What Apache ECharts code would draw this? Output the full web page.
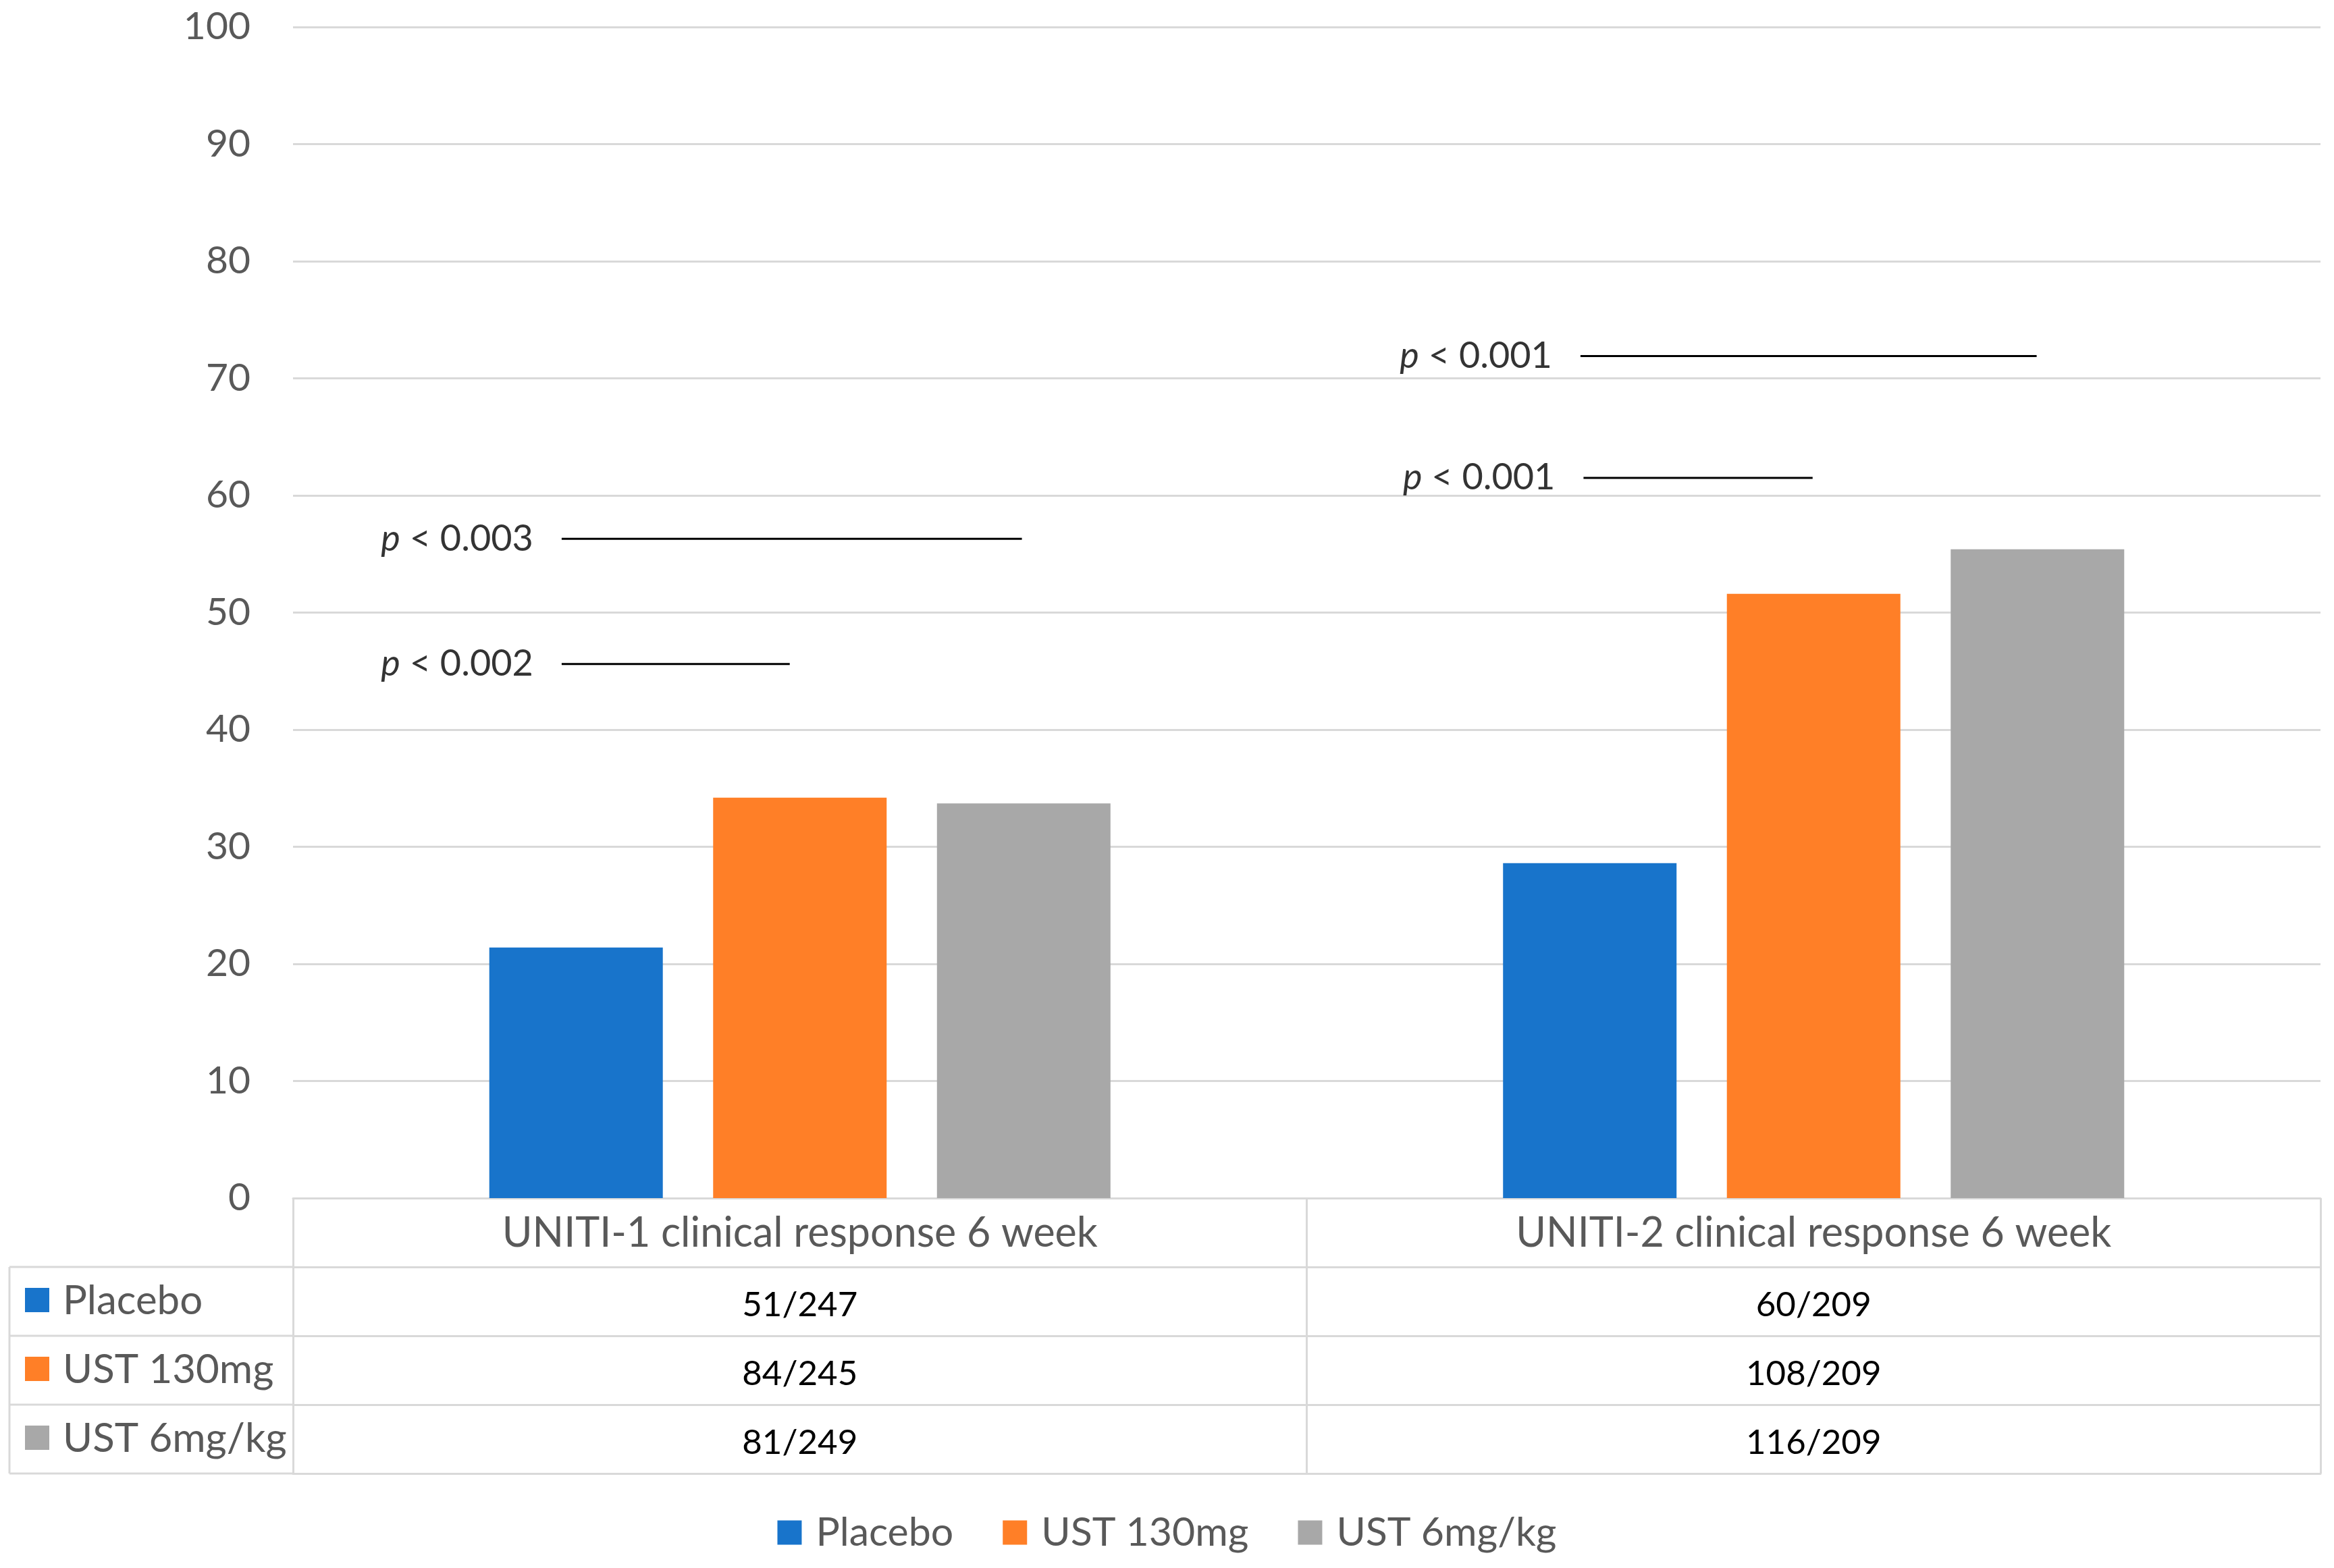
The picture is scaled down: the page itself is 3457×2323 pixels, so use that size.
<!DOCTYPE html>
<html>
<head>
  <meta charset="UTF-8">
  <title>UNITI clinical response 6 week</title>
  <script src="https://cdn.jsdelivr.net/npm/echarts@6/dist/echarts.min.js"></script>
  <style>
    html, body { margin: 0; padding: 0; background: #fff; }
    #chart { width: 3457px; height: 2323px; }
  </style>
</head>
<body>
  <div id="chart"></div>
  <script>
    // data
    const categories = ['UNITI-1 clinical response 6 week', 'UNITI-2 clinical response 6 week'];
    const seriesNames = ['Placebo', 'UST 130mg', 'UST 6mg/kg'];
    const colors = ['#1874CB', '#FF7F27', '#A8A8A8'];
    const placebo = [21.4, 28.6];
    const ust130 = [34.2, 51.6];
    const ust6 = [33.7, 55.4];
    const placeboCounts = ['51/247', '60/209'];
    const ust130Counts = ['84/245', '108/209'];
    const ust6Counts = ['81/249', '116/209'];
    const yTicks = { min: 0, max: 100, interval: 10 };

    // significance brackets: [xStart, xEnd, y] on a 0..2 scale across the two groups
    const pValues = ['0.003', '0.002', '0.001', '0.001'];
    const pLines = [
      [0.265, 0.719, 56.3],
      [0.265, 0.490, 45.6],
      [1.270, 1.720, 71.9],
      [1.273, 1.499, 61.5]
    ];

    // layout
    const W = 3457, H = 2323;
    const gridLeft = 434, gridRight = 20, gridTop = 40, gridBottom = 548;
    const rowH = 102;
    const tableLeft = 14;
    const axisY = H - gridBottom;
    const gray = '#595959';
    const lineGray = '#D9D9D9';
    const font = 'Lato';

    const chart = echarts.init(document.getElementById('chart'));

    const rowCounts = [placeboCounts, ust130Counts, ust6Counts];
    const rowAxes = rowCounts.map((cells, i) => ({
      type: 'category',
      gridIndex: 0,
      position: 'bottom',
      offset: rowH * (i + 1),
      data: cells,
      axisLine: { show: true, onZero: false, lineStyle: { color: lineGray, width: 3 } },
      axisTick: { show: false },
      axisLabel: {
        interval: 0, margin: 31, fontFamily: font, fontSize: 51, lineHeight: 51, color: '#000'
      },
      splitLine: { show: false }
    }));

    // bottom border of the table
    rowAxes.push({
      type: 'category',
      gridIndex: 0,
      position: 'bottom',
      offset: rowH * 4,
      data: categories,
      axisLine: { show: true, onZero: false, lineStyle: { color: lineGray, width: 3 } },
      axisTick: { show: false },
      axisLabel: { show: false }
    });

    // left column of the table: lines, colour keys and row names
    const graphics = [];
    for (let i = 1; i <= 4; i++) {
      graphics.push({
        type: 'line',
        shape: { x1: tableLeft, y1: axisY + rowH * i, x2: gridLeft, y2: axisY + rowH * i },
        style: { stroke: lineGray, lineWidth: 3 }
      });
    }
    graphics.push({
      type: 'line',
      shape: { x1: tableLeft, y1: axisY + rowH, x2: tableLeft, y2: axisY + rowH * 4 },
      style: { stroke: lineGray, lineWidth: 3 }
    });
    seriesNames.forEach((name, i) => {
      const cy = axisY + rowH * (i + 1) + rowH / 2;
      graphics.push({
        type: 'rect',
        shape: { x: 37, y: cy - 20, width: 36, height: 36 },
        style: { fill: colors[i] }
      });
      graphics.push({
        type: 'text',
        x: 93, y: cy,
        style: {
          text: name, fill: gray, font: '60px ' + font,
          textAlign: 'left', textVerticalAlign: 'middle'
        }
      });
    });

    const barSeries = [placebo, ust130, ust6].map((vals, i) => ({
      name: seriesNames[i],
      type: 'bar',
      xAxisIndex: 0,
      yAxisIndex: 0,
      data: vals,
      barWidth: 257,
      barGap: '29%',
      itemStyle: { color: colors[i] }
    }));

    const bracketSeries = pLines.map(([x1, x2, y]) => ({
      type: 'line',
      xAxisIndex: 5,
      yAxisIndex: 0,
      data: [[x1, y], [x2, y]],
      symbol: 'none',
      silent: true,
      lineStyle: { color: '#000', width: 3 }
    }));

    const pLabelSeries = {
      type: 'scatter',
      xAxisIndex: 5,
      yAxisIndex: 0,
      symbolSize: 0,
      silent: true,
      data: pLines.map(([x1, , y], i) => ({ value: [x1, y], pv: pValues[i] })),
      label: {
        show: true,
        position: 'left',
        distance: 42,
        color: '#000',
        fontFamily: font,
        fontSize: 54,
        formatter: p => '{i|p} < ' + p.data.pv,
        rich: {
          i: { fontStyle: 'italic', fontFamily: font, fontSize: 54, color: '#000' }
        }
      }
    };

    const option = {
      backgroundColor: '#fff',
      animation: false,
      color: colors,
      grid: { left: gridLeft, right: gridRight, top: gridTop, bottom: gridBottom, containLabel: false },
      legend: {
        data: seriesNames,
        left: 'center',
        top: 2236,
        icon: 'rect',
        itemWidth: 36,
        itemHeight: 36,
        itemGap: 73,
        textStyle: { fontFamily: font, fontSize: 59, color: gray, padding: [0, 0, 0, 16] }
      },
      xAxis: [
        {
          type: 'category',
          gridIndex: 0,
          position: 'bottom',
          data: categories,
          axisLine: { show: true, onZero: false, lineStyle: { color: lineGray, width: 3 } },
          axisTick: {
            show: true, interval: 0, alignWithLabel: false, length: rowH * 4,
            lineStyle: { color: lineGray, width: 3 }
          },
          axisLabel: {
            interval: 0, margin: 22, fontFamily: font, fontSize: 61, lineHeight: 61, color: gray
          },
          splitLine: { show: false }
        },
        ...rowAxes,
        { type: 'value', gridIndex: 0, position: 'top', min: 0, max: 2, show: false }
      ],
      yAxis: {
        type: 'value',
        min: yTicks.min,
        max: yTicks.max,
        interval: yTicks.interval,
        axisLine: { show: false },
        axisTick: { show: false },
        axisLabel: { margin: 63, fontFamily: font, fontSize: 57, color: gray },
        splitLine: { lineStyle: { color: lineGray, width: 3 } }
      },
      graphic: graphics,
      series: [...barSeries, ...bracketSeries, pLabelSeries]
    };

    chart.setOption(option);
  </script>
</body>
</html>
